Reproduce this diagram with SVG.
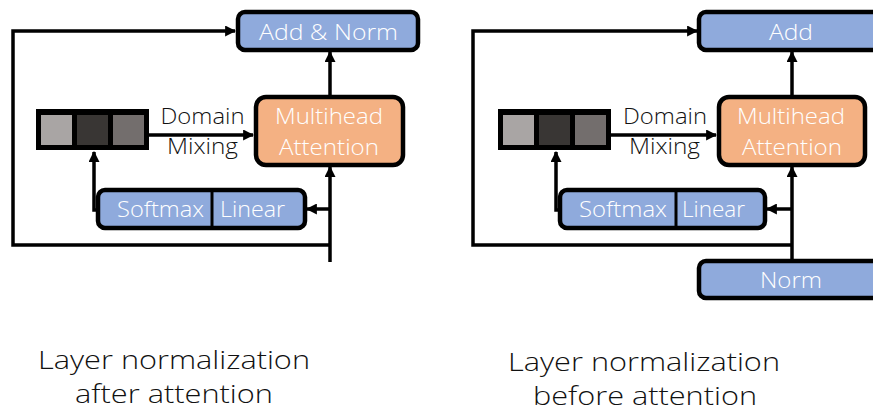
<svg xmlns="http://www.w3.org/2000/svg" width="873" height="413" viewBox="0 0 873 413">
<style>
.box{stroke:#000;stroke-width:4.5}
.blue{fill:#8FAADC}
.orange{fill:#F4B183}
.wt{fill:#fff;font-family:"Open Sans","Liberation Sans",Arial,sans-serif;font-weight:300;font-size:22px;text-anchor:middle}
.bt{fill:#111;font-family:"Open Sans","Liberation Sans",Arial,sans-serif;font-weight:300;font-size:22px;text-anchor:middle}
.cap{fill:#111;font-family:"Open Sans","Liberation Sans",Arial,sans-serif;font-weight:300;font-size:26px;text-anchor:middle}
.ln{fill:none;stroke:#000;stroke-width:3.5}
</style>
<defs>
<marker id="ah" viewBox="0 0 10 10" refX="9" refY="5" markerWidth="11" markerHeight="11" markerUnits="userSpaceOnUse" orient="auto">
<path d="M0,0 L10,5 L0,10 z" fill="#000"/>
</marker>
</defs>

<g id="connectors">
<path class="ln" d="M330,245 H13 V31 H235" marker-end="url(#ah)"/>
<path class="ln" d="M330,262 V167" marker-end="url(#ah)"/>
<path class="ln" d="M330,96 V52" marker-end="url(#ah)"/>
<path class="ln" d="M330,209 H307" marker-end="url(#ah)"/>
<path class="ln" d="M99,210 H94 V152" marker-end="url(#ah)"/>
<path class="ln" d="M149,135 H253" marker-end="url(#ah)"/>

<path class="ln" d="M792,245 H473 V31 H697" marker-end="url(#ah)"/>
<path class="ln" d="M792,260 V167" marker-end="url(#ah)"/>
<path class="ln" d="M792,96 V52" marker-end="url(#ah)"/>
<path class="ln" d="M792,209 H767" marker-end="url(#ah)"/>
<path class="ln" d="M561,210 H556 V152" marker-end="url(#ah)"/>
<path class="ln" d="M611,135 H716" marker-end="url(#ah)"/>
</g>

<g id="left-addnorm">
<rect class="box blue" x="238" y="12" width="180" height="38" rx="7"/>
<text class="wt" x="328.5" y="40" textLength="139" lengthAdjust="spacingAndGlyphs">Add &amp; Norm</text>
</g>
<g id="left-mha">
<rect class="box orange" x="256" y="97" width="147" height="68" rx="10"/>
<text class="wt" x="329" y="124" textLength="108" lengthAdjust="spacingAndGlyphs">Multihead</text>
<text class="wt" x="329" y="155" textLength="100" lengthAdjust="spacingAndGlyphs">Attention</text>
</g>
<g id="left-block">
<rect x="36" y="109" width="113" height="41" fill="#000"/>
<rect x="41" y="115" width="31" height="30" fill="#A9A5A4"/>
<rect x="77" y="115" width="31" height="30" fill="#393634"/>
<rect x="113" y="115" width="31" height="30" fill="#736E6D"/>
</g>
<g id="left-domain-label">
<text class="bt" x="202.5" y="124" textLength="84" lengthAdjust="spacingAndGlyphs">Domain</text>
<text class="bt" x="202.5" y="154" textLength="71" lengthAdjust="spacingAndGlyphs">Mixing</text>
</g>
<g id="left-softmax-linear">
<rect class="box blue" x="98" y="190" width="207" height="38" rx="7"/>
<line x1="212" y1="190" x2="212" y2="228" stroke="#000" stroke-width="3"/>
<text class="wt" x="160.5" y="217" textLength="87" lengthAdjust="spacingAndGlyphs">Softmax</text>
<text class="wt" x="252.5" y="217" textLength="65" lengthAdjust="spacingAndGlyphs">Linear</text>
</g>

<g id="right-add">
<rect class="box blue" x="699" y="12" width="200" height="38" rx="7"/>
<text class="wt" x="791" y="40" textLength="44" lengthAdjust="spacingAndGlyphs">Add</text>
</g>
<g id="right-mha">
<rect class="box orange" x="719" y="97" width="146" height="68" rx="10"/>
<text class="wt" x="791" y="124" textLength="108" lengthAdjust="spacingAndGlyphs">Multihead</text>
<text class="wt" x="792" y="155" textLength="100" lengthAdjust="spacingAndGlyphs">Attention</text>
</g>
<g id="right-block">
<rect x="498" y="109" width="113" height="41" fill="#000"/>
<rect x="503" y="115" width="31" height="30" fill="#A9A5A4"/>
<rect x="539" y="115" width="31" height="30" fill="#393634"/>
<rect x="575" y="115" width="31" height="30" fill="#736E6D"/>
</g>
<g id="right-domain-label">
<text class="bt" x="665" y="124" textLength="84" lengthAdjust="spacingAndGlyphs">Domain</text>
<text class="bt" x="664.5" y="154" textLength="71" lengthAdjust="spacingAndGlyphs">Mixing</text>
</g>
<g id="right-softmax-linear">
<rect class="box blue" x="560" y="190" width="205" height="38" rx="7"/>
<line x1="676" y1="190" x2="676" y2="228" stroke="#000" stroke-width="3"/>
<text class="wt" x="623" y="217" textLength="88" lengthAdjust="spacingAndGlyphs">Softmax</text>
<text class="wt" x="713.5" y="217" textLength="63" lengthAdjust="spacingAndGlyphs">Linear</text>
</g>
<g id="right-norm">
<rect class="box blue" x="699" y="261" width="200" height="37" rx="7"/>
<text class="wt" x="791" y="288" textLength="62" lengthAdjust="spacingAndGlyphs">Norm</text>
</g>

<g id="captions">
<text class="cap" x="174" y="369" textLength="272" lengthAdjust="spacingAndGlyphs">Layer normalization</text>
<text class="cap" x="174" y="403" textLength="198" lengthAdjust="spacingAndGlyphs">after attention</text>
<text class="cap" x="644" y="371" textLength="272" lengthAdjust="spacingAndGlyphs">Layer normalization</text>
<text class="cap" x="645" y="405" textLength="224" lengthAdjust="spacingAndGlyphs">before attention</text>
</g>
</svg>
